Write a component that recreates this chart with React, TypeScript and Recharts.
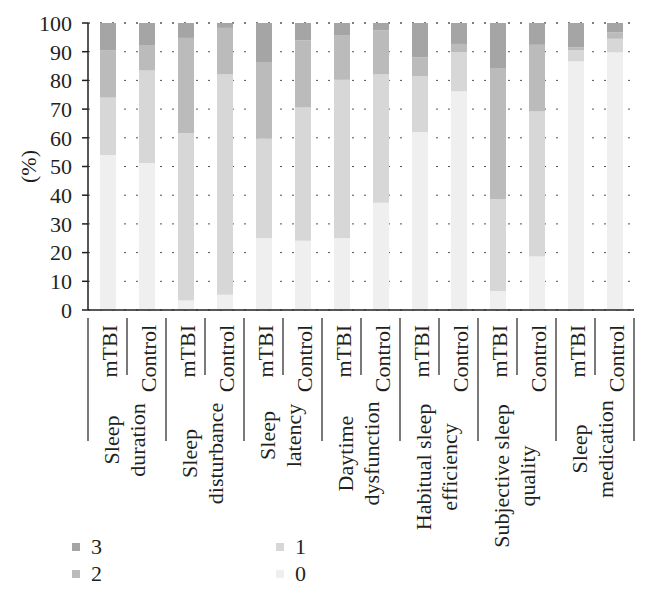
import {
  BarChart,
  Bar,
  XAxis,
  YAxis,
  CartesianGrid,
  Legend,
} from "recharts";

const FONT = '"Liberation Serif", "Times New Roman", serif';
const INK = "#231f20";
const FS = 22;

// two bars per item: mTBI then Control
const subjects = ["mTBI", "Control", "mTBI", "Control", "mTBI", "Control", "mTBI", "Control", "mTBI", "Control", "mTBI", "Control", "mTBI", "Control"];
const groupLabels = [
  ["Sleep", "duration"],
  ["Sleep", "disturbance"],
  ["Sleep", "latency"],
  ["Daytime", "dysfunction"],
  ["Habitual sleep", "efficiency"],
  ["Subjective sleep", "quality"],
  ["Sleep", "medication"],
];

// percentages, score 0..3
const score0 = [54, 51.2, 3.3, 5.3, 25.1, 24.1, 25.1, 37.4, 62, 76.2, 6.6, 18.6, 86.6, 89.8];
const score1 = [20, 32.3, 58.3, 76.9, 34.6, 46.5, 55.1, 44.8, 19.4, 13.6, 32, 50.6, 3.9, 4.7];
const score2 = [16.4, 8.6, 33.2, 16.1, 26.5, 23.4, 15.4, 15.2, 6.6, 2.9, 45.7, 23.2, 1, 2.2];
const score3 = [9.6, 7.9, 5.2, 1.7, 13.8, 6, 4.4, 2.6, 12, 7.3, 15.7, 7.6, 8.5, 3.3];
const yTicks = [0, 10, 20, 30, 40, 50, 60, 70, 80, 90, 100];

const colors: Record<string, string> = {
  "0": "#efefef",
  "1": "#d7d7d7",
  "2": "#bbbbbb",
  "3": "#a5a5a5",
};

const data = subjects.map((s, i) => ({
  id: i,
  subject: s,
  "0": score0[i],
  "1": score1[i],
  "2": score2[i],
  "3": score3[i],
}));

const STEP = 39; // width of one category band

function CategoryTick(props: any) {
  const { x, y, payload, index } = props;
  const i = payload?.value ?? index;
  const left = x - STEP / 2;
  const isFirst = i % 2 === 0;
  const group = groupLabels[Math.floor(i / 2)];
  const longest = Math.max(...group.map((g) => g.length));
  const cy = y + 86 + (longest * 9) / 2;
  return (
    <g>
      <line x1={left} y1={y} x2={left} y2={isFirst ? y + 123 : y + 57} stroke={INK} strokeWidth={1.2} />
      {i === subjects.length - 1 && (
        <line x1={x + STEP / 2} y1={y} x2={x + STEP / 2} y2={y + 123} stroke={INK} strokeWidth={1.2} />
      )}
      <text
        transform={`translate(${x + 2}, ${y + 7}) rotate(-90)`}
        textAnchor="end"
        dominantBaseline="central"
        fontFamily={FONT}
        fontSize={FS}
        fill={INK}
      >
        {subjects[i]}
      </text>
      {isFirst &&
        group.map((line, k) => (
          <text
            key={k}
            transform={`translate(${left + 23 + k * 26}, ${cy}) rotate(-90)`}
            textAnchor="middle"
            dominantBaseline="central"
            fontFamily={FONT}
            fontSize={FS}
            fill={INK}
          >
            {line}
          </text>
        ))}
    </g>
  );
}

function LegendBox() {
  const items = [
    { key: "3", x: 72, y: 0 },
    { key: "2", x: 72, y: 27 },
    { key: "1", x: 276, y: 0 },
    { key: "0", x: 276, y: 27 },
  ];
  return (
    <div style={{ position: "relative", width: 600, height: 60, fontFamily: FONT, fontSize: FS, color: INK }}>
      {items.map((it) => (
        <div key={it.key} style={{ position: "absolute", left: it.x, top: it.y, display: "flex", alignItems: "center", height: 26 }}>
          <span style={{ display: "inline-block", width: 8, height: 8, background: colors[it.key], marginRight: 11 }} />
          <span>{it.key}</span>
        </div>
      ))}
    </div>
  );
}

export default function App() {
  return (
    <div style={{ position: "absolute", left: 0, top: 0, width: 647, height: 593, background: "#fff" }}>
      <BarChart
        width={647}
        height={593}
        data={data}
        margin={{ top: 23, right: 13, left: 0, bottom: 133 }}
        barSize={16}
      >
        <CartesianGrid vertical={false} stroke="#555" strokeDasharray="2 10" />
        <XAxis
          dataKey="id"
          type="category"
          interval={0}
          height={150}
          tickLine={false}
          axisLine={{ stroke: INK, strokeWidth: 1.5 }}
          tick={<CategoryTick />}
        />
        <YAxis
          domain={[0, 100]}
          ticks={yTicks}
          interval={0}
          width={88}
          tickSize={6}
          tickMargin={10}
          axisLine={{ stroke: INK, strokeWidth: 1.5 }}
          tickLine={{ stroke: INK, strokeWidth: 1.5 }}
          tick={{ fontFamily: FONT, fontSize: FS, fill: INK }}
          label={{ value: "(%)", angle: -90, position: "insideLeft", offset: 28, style: { fontFamily: FONT, fontSize: FS, fill: INK, textAnchor: "middle" } }}
        />
        <Legend
          layout="horizontal"
          verticalAlign="middle"
          align="center"
          wrapperStyle={{ top: 534, left: 0, width: 600 }}
          content={() => <LegendBox />}
        />
        <Bar dataKey="0" stackId="a" fill={colors["0"]} isAnimationActive={false} />
        <Bar dataKey="1" stackId="a" fill={colors["1"]} isAnimationActive={false} />
        <Bar dataKey="2" stackId="a" fill={colors["2"]} isAnimationActive={false} />
        <Bar dataKey="3" stackId="a" fill={colors["3"]} isAnimationActive={false} />
      </BarChart>
    </div>
  );
}
